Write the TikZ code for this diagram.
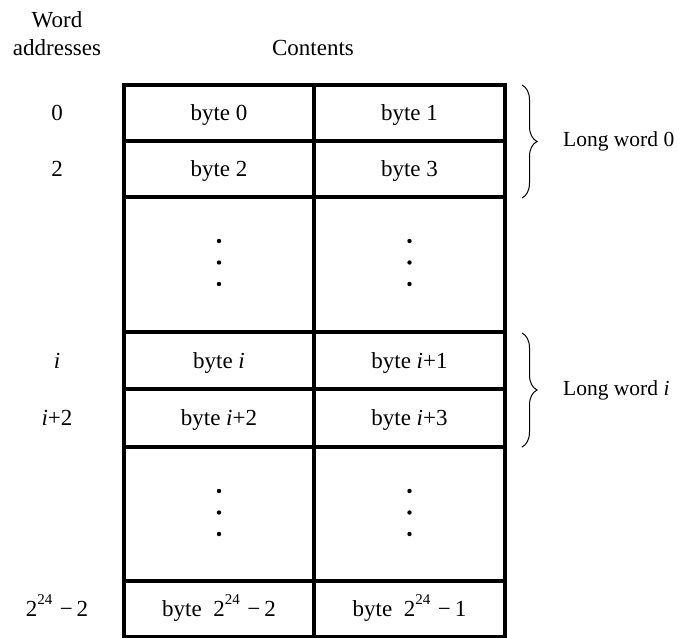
\documentclass[tikz,border=0pt]{standalone}
\usepackage{fontspec}
\setmainfont{Liberation Serif}
\usetikzlibrary{decorations.pathreplacing}
\newcommand{\twoexp}[1]{2\raisebox{0.52em}{\fontsize{15}{15}\selectfont 24}\,\,−\,#1}
\begin{document}
\begin{tikzpicture}[x=1pt,y=-1pt,
  grid/.style={line width=3.8pt},
  txt/.style={font=\fontsize{23}{27}\selectfont, inner sep=0pt},
  cell/.style={txt, text height=15.5pt, text depth=0pt, anchor=center},
  head/.style={txt, anchor=base},
  side/.style={font=\fontsize{21.5}{25}\selectfont, inner sep=0pt, anchor=west},
  bracket/.style={line width=1pt, decorate, decoration={brace, amplitude=15pt}},
  dot/.style={fill=black}
]
\useasboundingbox (0,0) rectangle (679,637);

% column lines and row lines of the memory table
\draw[grid] (124,85) -- (124,640);
\draw[grid] (314,85) -- (314,640);
\draw[grid] (505,85) -- (505,640);
\foreach \yy in {85,141,197,332,389,447,581,637}
  \draw[grid] (122.1,\yy) -- (506.9,\yy);

% headings
\node[head] (hw) at (57,27) {Word};
\node[head] (ha) at (57,55) {addresses};
\node[head] (hc) at (313,55) {Contents};

% word addresses
\node[cell] (a0) at (57,113) {0};
\node[cell] (a2) at (57,169) {2};
\node[cell] (ai) at (57,360.5) {\textit{i}};
\node[cell] (ai2) at (57,418) {\textit{i}+2};
\node[cell] (alast) at (57,609) {\twoexp{2}};

% byte cells
\node[cell] (b0) at (219,113) {byte 0};
\node[cell] (b1) at (409.5,113) {byte 1};
\node[cell] (b2) at (219,169) {byte 2};
\node[cell] (b3) at (409.5,169) {byte 3};
\node[cell] (bi) at (219,360.5) {byte \textit{i}};
\node[cell] (bi1) at (409.5,360.5) {byte \textit{i}+1};
\node[cell] (bi2) at (219,418) {byte \textit{i}+2};
\node[cell] (bi3) at (409.5,418) {byte \textit{i}+3};
\node[cell] (bl0) at (219,609) {byte \ \twoexp{2}};
\node[cell] (bl1) at (409.5,609) {byte \ \twoexp{1}};

% vertical ellipses in the gap rows
\foreach \xx in {219,409.5}
  \foreach \yy in {241,262.5,284,491,512.5,534}
    \fill[dot] (\xx,\yy) circle (2.2pt);

% long word braces
\coordinate (t0) at (522,85);
\coordinate (u0) at (522,198);
\coordinate (t1) at (522,333);
\coordinate (u1) at (522,447);
\draw[bracket] (t0) -- (u0);
\draw[bracket] (t1) -- (u1);
\node[side] (lw0) at (563,141.5) {Long word 0};
\node[side] (lwi) at (563,390) {Long word \textit{i}};
\end{tikzpicture}
\end{document}
